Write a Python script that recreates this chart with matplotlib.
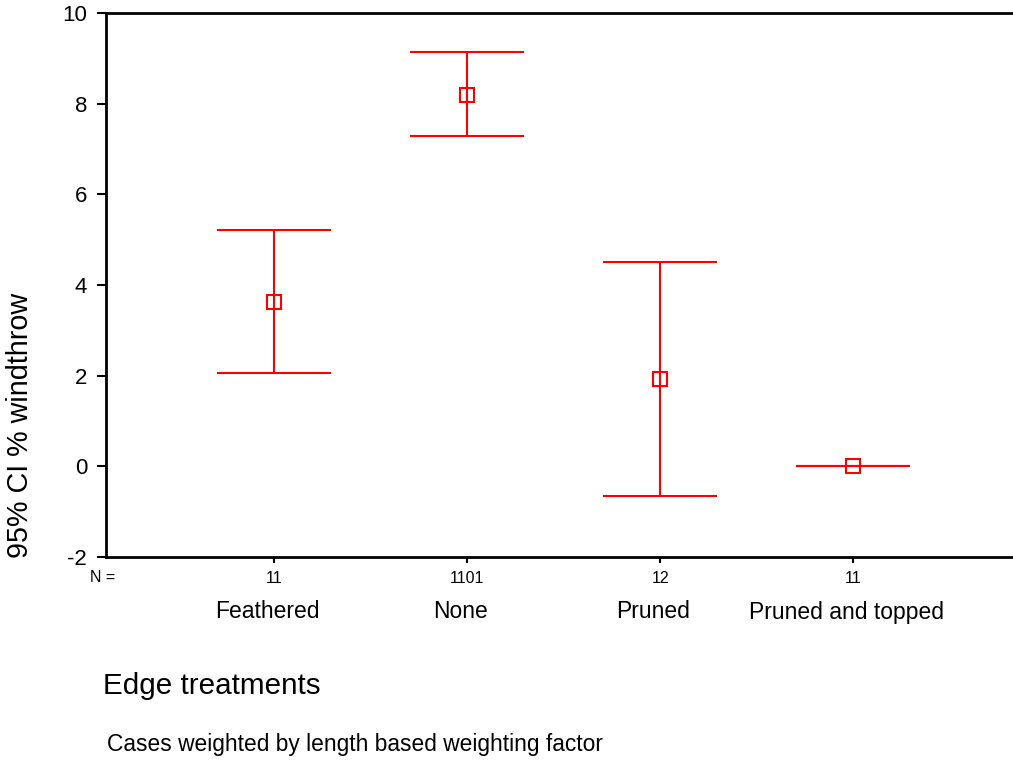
import matplotlib
matplotlib.use("Agg")
import matplotlib.pyplot as plt
import numpy as np

plt.rcParams['font.family'] = ['Liberation Sans', 'DejaVu Sans']

categories = ["Feathered", "None", "Pruned", "Pruned and topped"]
n_values = ["11", "1101", "12", "11"]
means = [3.62, 8.20, 1.92, 0.0]
upper = [5.21, 9.15, 4.50, 0.0]
lower = [2.05, 7.29, -0.67, 0.0]

fig = plt.figure(figsize=(10.13, 7.61), dpi=100)
ax = fig.add_axes([0.1046, 0.2687, 0.8960, 0.7136])

x = np.arange(1, len(categories) + 1)
means_a = np.array(means)
yerr = [means_a - np.array(lower), np.array(upper) - means_a]
ax.errorbar(x, means, yerr=yerr, fmt='s', color='#ff0000', mfc='none', mec='#ff0000',
            markersize=9.5, markeredgewidth=1.5, elinewidth=1.5, capsize=41, capthick=1.5,
            ecolor='#ff0000')

ax.set_xlim(0.13, 4.83)
ax.set_ylim(-2, 10)
ax.set_yticks([-2, 0, 2, 4, 6, 8, 10])
ax.set_yticklabels(["-2", "0", "2", "4", "6", "8", "10"], fontsize=16)
ax.set_xticks(x)
ax.set_xticklabels(n_values, fontsize=11.5)
ax.tick_params(axis='y', direction='out', length=6.5, width=1.5, pad=7)
ax.tick_params(axis='x', direction='out', length=4.5, width=1.5, pad=6)
for s in ['left', 'bottom', 'top']:
    ax.spines[s].set_linewidth(2)
ax.spines['right'].set_visible(False)

fig.text(103 / 1013, 1 - 578 / 761, "N =", fontsize=11.5, ha='center', va='center')
for xi, cat in zip(x, categories):
    xd = ax.transData.transform((xi, 0))[0] - 7
    fig.text(xd / 1013, 1 - 612 / 761, cat, fontsize=16.5, ha='center', va='center')

fig.text(103 / 1013, 1 - 686 / 761, "Edge treatments", fontsize=21.3, ha='left', va='center')
fig.text(107 / 1013, 1 - 745 / 761, "Cases weighted by length based weighting factor",
         fontsize=16.4, ha='left', va='center')
fig.text(20 / 1013, 1 - 425 / 761, "95% CI % windthrow", fontsize=20.7, rotation=90,
         ha='center', va='center')

fig.savefig("out.png", dpi=100)
